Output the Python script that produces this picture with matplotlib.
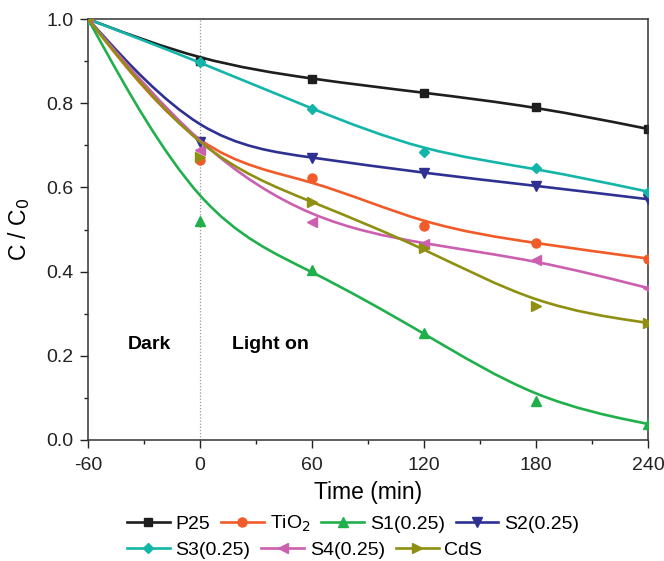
import numpy as np
import matplotlib
matplotlib.use('Agg')
import matplotlib.pyplot as plt
from matplotlib.path import Path
from matplotlib.patches import PathPatch
from matplotlib.lines import Line2D

plt.rcParams['font.family'] = ['Liberation Sans', 'DejaVu Sans']
plt.rcParams['axes.unicode_minus'] = False

# data
time = [-60, 0, 60, 120, 180, 240]
p25 = [1.0, 0.900, 0.857, 0.825, 0.792, 0.739]
tio2 = [1.0, 0.665, 0.623, 0.509, 0.467, 0.431]
s1 = [1.0, 0.521, 0.404, 0.254, 0.093, 0.038]
s2 = [1.0, 0.708, 0.671, 0.634, 0.604, 0.572]
s3 = [1.0, 0.898, 0.786, 0.684, 0.646, 0.590]
s4 = [1.0, 0.688, 0.519, 0.465, 0.428, 0.361]
cds = [1.0, 0.672, 0.566, 0.457, 0.318, 0.278]

labels = ['P25', 'TiO$_2$', 'S1(0.25)', 'S2(0.25)', 'S3(0.25)', 'S4(0.25)', 'CdS']
series = [p25, tio2, s1, s2, s3, s4, cds]
colors = ['#1e1e1e', '#f15a29', '#20b04b', '#2e3192', '#13b5a9', '#cc5faf', '#8f8f12']
markers = ['s', 'o', '^', 'v', 'D', '<', '>']
msizes = [6, 6.5, 7, 7, 5.5, 7, 7]


def bspline_path(x, y):
    # uniform cubic B-spline with tripled end points (smooth connect line)
    q = [(x[0], y[0])] * 2 + list(zip(x, y)) + [(x[-1], y[-1])] * 2
    q = np.array(q, dtype=float)
    verts = [q[0]]
    codes = [Path.MOVETO]
    for i in range(len(q) - 3):
        q0, q1, q2, q3 = q[i:i + 4]
        verts += [(2 * q1 + q2) / 3, (q1 + 2 * q2) / 3, (q1 + 4 * q2 + q3) / 6]
        codes += [Path.CURVE4] * 3
    return Path(verts, codes)


fig = plt.figure(figsize=(6.64, 5.61), dpi=100)
ax = fig.add_axes([0.1325, 0.2157, 0.8435, 0.7503])

ax.axvline(0, color='#999999', lw=0.9, ls=(0, (1, 1.5)), zorder=1)

for i, (y, c, m, ms) in enumerate(zip(series, colors, markers, msizes)):
    ax.add_patch(PathPatch(bspline_path(time, y), facecolor='none', edgecolor=c,
                           lw=1.9, zorder=2 + i))
    ax.plot(time, y, ls='none', marker=m, color=c, ms=ms, zorder=2 + i)

ax.set_xlim(-60, 240)
ax.set_ylim(0, 1.0)
ax.set_xticks([-60, 0, 60, 120, 180, 240])
ax.set_xticks(np.arange(-30, 240, 60), minor=True)
ax.set_yticks(np.arange(0, 1.01, 0.2))
ax.set_yticks(np.arange(0.1, 1.0, 0.2), minor=True)
ax.yaxis.set_major_formatter(matplotlib.ticker.FormatStrFormatter('%.1f'))
ax.tick_params(which='major', length=5.5, width=1, labelsize=14, direction='out',
               colors='#222222')
ax.tick_params(which='minor', length=3, width=1, direction='out', colors='#222222')
ax.tick_params(axis='x', pad=6.5)
ax.tick_params(axis='y', pad=5)
for sp in ax.spines.values():
    sp.set_linewidth(1.1)
    sp.set_color('#333333')

ax.set_xlabel('Time (min)', fontsize=16.5, labelpad=5)
ax.set_ylabel('C / C$_0$', fontsize=16.5, labelpad=10)

ax.text(-27, 0.226, 'Dark', fontsize=14, fontweight='bold', ha='center', va='center')
ax.text(17, 0.226, 'Light on', fontsize=14, fontweight='bold', ha='left', va='center')

handles = [Line2D([], [], color=c, marker=m, ms=ms, lw=1.9)
           for c, m, ms in zip(colors, markers, msizes)]
leg_kw = dict(frameon=False, fontsize=14, handlelength=2.2, handletextpad=0.3,
              columnspacing=0.55, borderpad=0, borderaxespad=0, loc='center left')
fig.legend(handles[:4], labels[:4], ncol=4,
           bbox_to_anchor=(127 / 664, 1 - 524 / 561), **leg_kw)
fig.legend(handles[4:], labels[4:], ncol=3,
           bbox_to_anchor=(127 / 664, 1 - 550 / 561), **leg_kw)

fig.savefig('out.png', dpi=100)
